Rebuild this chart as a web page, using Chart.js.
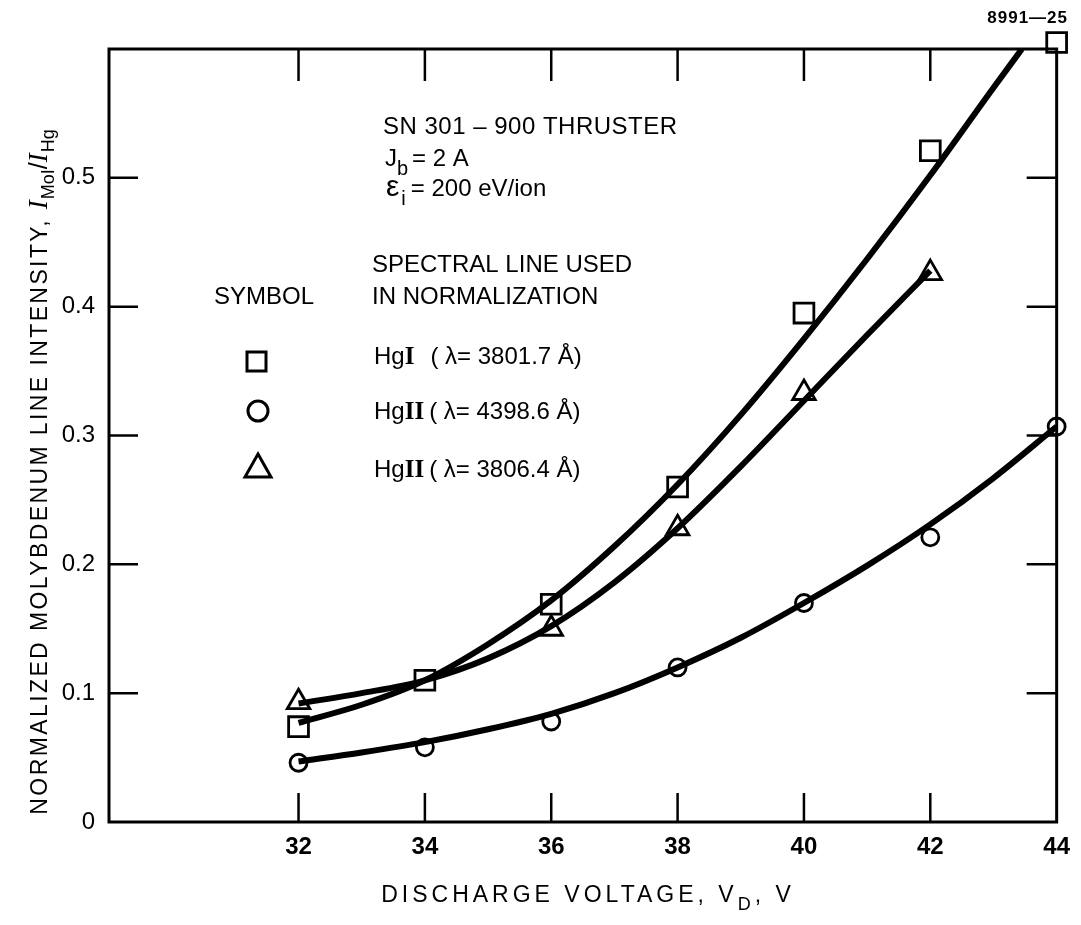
<!DOCTYPE html>
<html>
<head>
<meta charset="utf-8">
<script src="https://cdn.jsdelivr.net/npm/chart.js@4.4.1/dist/chart.umd.min.js"></script>
<style>
  html, body { margin: 0; padding: 0; background: #fff; }
  #wrap { width: 1081px; height: 925px; }
</style>
</head>
<body>
<div id="wrap"><canvas id="chart" width="1081" height="925"></canvas></div>
<script>
// measured points (discharge voltage, V)
const voltages = [32, 34, 36, 38, 40, 42, 44];
const hgI3801 = [0.074, 0.110, 0.169, 0.260, 0.395, 0.521, 0.605];
const hgII4398 = [0.046, 0.058, 0.078, 0.120, 0.170, 0.221, 0.307];
const hgII3806 = [0.093, null, 0.150, 0.228, 0.333, 0.426, null];

// faired curves
const fitVoltsHgI = [32, 33, 34, 35, 36, 37, 38, 39, 40, 41, 42, 43, 43.45];
const fitHgI3801 = [0.077, 0.091, 0.110, 0.138, 0.172, 0.214, 0.262, 0.316, 0.375, 0.437, 0.502, 0.570, 0.600];
const fitVoltsHgII = [32, 33, 34, 35, 36, 37, 38, 39, 40, 41, 42, 43, 44];
const fitHgII4398 = [0.047, 0.054, 0.062, 0.072, 0.084, 0.100, 0.120, 0.143, 0.170, 0.199, 0.231, 0.267, 0.307];
const fitVoltsTri = [32, 33, 34, 35, 36, 37, 38, 39, 40, 41, 42];
const fitHgII3806 = [0.092, 0.100, 0.110, 0.127, 0.152, 0.186, 0.228, 0.276, 0.327, 0.378, 0.428];

const xTicks = [32, 34, 36, 38, 40, 42, 44];
const yTicks = [0, 0.1, 0.2, 0.3, 0.4, 0.5];

const SANS = "'Liberation Sans', Arial, Helvetica, sans-serif";
const SERIF = "'Liberation Serif', 'Times New Roman', serif";

const pts = (xs, ys) => xs.map((x, i) => ({ x: x, y: ys[i] })).filter(p => p.y !== null);

function curve(xs, ys) {
    return {
        type: 'line',
        data: pts(xs, ys),
        borderColor: '#000',
        borderWidth: 6,
        pointRadius: 0,
        cubicInterpolationMode: 'monotone',
        fill: false
    };
}

function marks(ys, style, r) {
    return {
        type: 'scatter',
        data: pts(voltages, ys),
        pointStyle: style,
        pointRadius: r,
        pointBorderWidth: 2.8,
        pointBorderColor: '#000',
        pointBackgroundColor: 'rgba(0,0,0,0)',
        showLine: false,
        clip: false
    };
}

// draw pieces of text left to right, some as subscripts
function rich(ctx, x, y, parts, measureOnly) {
    let w = 0;
    parts.forEach(p => {
        ctx.font = p.f;
        ctx.letterSpacing = p.ls || '0px';
        if (!measureOnly) ctx.fillText(p.t, x + w, y + (p.dy || 0));
        w += ctx.measureText(p.t).width + (p.gap || 0);
    });
    ctx.letterSpacing = '0px';
    return w;
}

const framePlugin = {
    id: 'framePlugin',
    afterDraw(chart) {
        const ctx = chart.ctx;
        const a = chart.chartArea;
        const xs = chart.scales.x, ys = chart.scales.y;
        ctx.save();
        ctx.strokeStyle = '#000';
        ctx.fillStyle = '#000';
        ctx.lineWidth = 3;
        ctx.strokeRect(a.left, a.top, a.right - a.left, a.bottom - a.top);

        // inward ticks on all four sides
        ctx.lineWidth = 2.5;
        ctx.beginPath();
        xTicks.slice(0, -1).forEach(v => {
            const px = xs.getPixelForValue(v);
            ctx.moveTo(px, a.bottom); ctx.lineTo(px, a.bottom - 29);
            ctx.moveTo(px, a.top); ctx.lineTo(px, a.top + 32);
        });
        yTicks.slice(1).forEach(v => {
            const py = ys.getPixelForValue(v);
            ctx.moveTo(a.left, py); ctx.lineTo(a.left + 29, py);
            ctx.moveTo(a.right, py); ctx.lineTo(a.right - 30, py);
        });
        ctx.stroke();

        ctx.textBaseline = 'alphabetic';
        const f24 = '24px ' + SANS;

        // figure number
        ctx.font = 'bold 17px ' + SANS;
        ctx.letterSpacing = '1px';
        ctx.textAlign = 'right';
        ctx.fillText('8991\u201425', 1068, 23);
        ctx.textAlign = 'left';
        ctx.letterSpacing = '0px';

        // run conditions
        rich(ctx, 383, 134, [{ t: 'SN 301 \u2013 900 THRUSTER', f: f24, ls: '0.5px' }]);
        rich(ctx, 385, 166, [
            { t: 'J', f: f24 },
            { t: 'b', f: '20px ' + SANS, dy: 9, gap: 4 },
            { t: '= 2 A', f: f24 }
        ]);
        rich(ctx, 386, 196, [
            { t: '\u03b5', f: '30px ' + SANS, gap: 2 },
            { t: 'i', f: '20px ' + SANS, dy: 9, gap: 5 },
            { t: '= 200 eV/ion', f: f24 }
        ]);

        // symbol key
        rich(ctx, 214, 304, [{ t: 'SYMBOL', f: f24 }]);
        rich(ctx, 372, 272, [{ t: 'SPECTRAL LINE USED', f: f24 }]);
        rich(ctx, 372, 304, [{ t: 'IN NORMALIZATION', f: f24 }]);
        const keyRows = [
            { y: 364, ion: 'I', gap: 16, lam: '3801.7' },
            { y: 419, ion: 'II', gap: 5, lam: '4398.6' },
            { y: 477, ion: 'II', gap: 5, lam: '3806.4' }
        ];
        keyRows.forEach(r => {
            rich(ctx, 374, r.y, [
                { t: 'Hg', f: f24 },
                { t: r.ion, f: 'bold 25px ' + SERIF, gap: r.gap },
                { t: '( \u03bb= ' + r.lam + ' \u00c5)', f: f24 }
            ]);
        });
        ctx.lineWidth = 3;
        ctx.strokeRect(247, 352, 19, 19);
        ctx.beginPath();
        ctx.arc(258, 411, 10, 0, Math.PI * 2);
        ctx.stroke();
        ctx.beginPath();
        ctx.moveTo(258, 454); ctx.lineTo(271, 477); ctx.lineTo(245, 477); ctx.closePath();
        ctx.stroke();

        // x axis title
        const xParts = [
            { t: 'DISCHARGE VOLTAGE, V', f: '23px ' + SANS, ls: '4px' },
            { t: 'D', f: '18px ' + SANS, dy: 8, ls: '4px' },
            { t: ', V', f: '23px ' + SANS, ls: '4px' }
        ];
        const xw = rich(ctx, 0, 0, xParts, true);
        rich(ctx, 588 - xw / 2, 902, xParts);

        // y axis title, reading upwards
        const yParts = [
            { t: 'NORMALIZED MOLYBDENUM LINE INTENSITY, ', f: '23px ' + SANS, ls: '2.4px' },
            { t: 'I', f: 'italic 27px ' + SERIF, gap: 1 },
            { t: 'MoI', f: '18px ' + SANS, dy: 7 },
            { t: '/', f: '25px ' + SANS },
            { t: 'I', f: 'italic 27px ' + SERIF, gap: 1 },
            { t: 'Hg', f: '18px ' + SANS, dy: 7 }
        ];
        const yw = rich(ctx, 0, 0, yParts, true);
        ctx.translate(47, 472);
        ctx.rotate(-Math.PI / 2);
        rich(ctx, -yw / 2, 0, yParts);
        ctx.restore();
    }
};

new Chart(document.getElementById('chart'), {
    data: {
        datasets: [
            curve(fitVoltsHgI, fitHgI3801),
            curve(fitVoltsTri, fitHgII3806),
            curve(fitVoltsHgII, fitHgII4398),
            marks(hgI3801, 'rect', 14),
            marks(hgII4398, 'circle', 8.5),
            marks(hgII3806, 'triangle', 13)
        ]
    },
    options: {
        responsive: false,
        animation: false,
        devicePixelRatio: 1,
        layout: { padding: { top: 49, right: 23, left: 0, bottom: 0 } },
        plugins: {
            legend: { display: false },
            tooltip: { enabled: false }
        },
        scales: {
            x: {
                type: 'linear',
                min: 29,
                max: 44,
                afterBuildTicks: s => { s.ticks = xTicks.map(v => ({ value: v })); },
                afterFit: s => { s.height = 103; },
                grid: { display: false, drawTicks: false },
                border: { display: false },
                ticks: {
                    autoSkip: false,
                    maxRotation: 0,
                    padding: 11,
                    color: '#000',
                    font: { family: SANS, size: 24, weight: 'bold' }
                }
            },
            y: {
                type: 'linear',
                min: 0,
                max: 0.6,
                afterBuildTicks: s => { s.ticks = yTicks.map(v => ({ value: v })); },
                afterFit: s => { s.width = 109; },
                grid: { display: false, drawTicks: false },
                border: { display: false },
                ticks: {
                    padding: 14,
                    color: '#000',
                    font: { family: SANS, size: 24 },
                    callback: v => (v === 0 ? '0' : v.toFixed(1))
                }
            }
        }
    },
    plugins: [framePlugin]
});
</script>
</body>
</html>
